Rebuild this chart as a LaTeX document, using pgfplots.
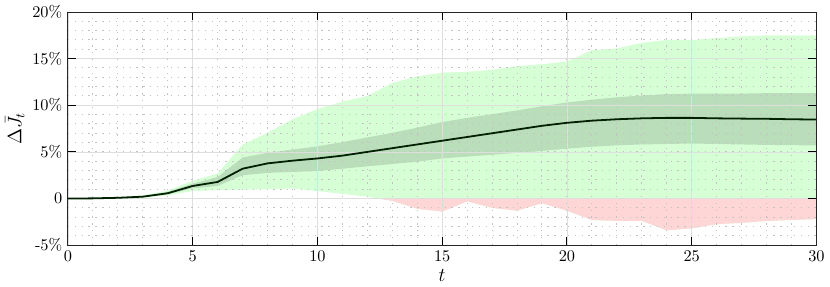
\documentclass[border=0pt]{standalone}
\usepackage{pgfplots}
\usepackage{pgfplotstable}
\pgfplotsset{compat=1.18}
\usepgfplotslibrary{fillbetween}
\definecolor{bandgreen}{RGB}{214,255,214}
\definecolor{bandred}{RGB}{255,214,214}
\definecolor{meanline}{RGB}{0,32,0}

% t, mean, inner lo, inner hi, outer lo, outer hi
\pgfplotstableread{
t  mean  ilo   ihi   olo   ohi
0  0.00  0.00  0.00  0.00  0.00
1  0.02  0.01  0.03  0.00  0.05
2  0.08  0.05  0.11  0.03  0.14
3  0.20  0.15  0.26  0.10  0.32
4  0.57  0.45  0.70  0.35  0.85
5  1.35  1.10  1.60  0.80  1.90
6  1.78  1.35  2.30  0.90  2.70
7  3.20  2.50  4.40  0.95  5.80
8  3.77  2.75  4.90  1.00  7.05
9  4.06  2.85  5.25  1.07  8.50
10 4.30  2.95  5.60  0.80  9.60
11 4.60  3.20  6.05  0.50  10.40
12 5.00  3.45  6.55  0.20  11.00
13 5.40  3.70  7.05  -0.25 12.40
14 5.80  3.95  7.60  -1.10 13.10
15 6.20  4.30  8.20  -1.40 13.50
16 6.60  4.50  8.65  -0.30 13.60
17 7.00  4.70  9.05  -1.00 13.80
18 7.40  4.90  9.45  -1.30 14.20
19 7.80  5.10  9.90  -0.50 14.40
20 8.12  5.35  10.30 -1.30 14.70
21 8.35  5.55  10.60 -2.30 15.90
22 8.50  5.70  10.85 -2.40 16.10
23 8.60  5.80  11.05 -2.40 16.70
24 8.65  5.85  11.20 -3.40 17.00
25 8.65  5.90  11.25 -3.20 17.00
26 8.60  5.85  11.25 -2.75 17.20
27 8.57  5.80  11.25 -2.60 17.40
28 8.55  5.75  11.30 -2.40 17.50
29 8.50  5.72  11.30 -2.30 17.50
30 8.47  5.70  11.30 -2.20 17.50
}\banddata

\begin{document}
\begin{tikzpicture}
\begin{axis}[
    set layers,
    scale only axis,
    width=459pt,
    height=143pt,
    xmin=0, xmax=30,
    ymin=-5, ymax=20,
    xtick={0,5,...,30},
    ytick={-5,0,5,10,15,20},
    yticklabels={-5\%,0,5\%,10\%,15\%,20\%},
    minor xtick={0,1,...,30},
    minor ytick={-5,-4,...,20},
    xmajorgrids, ymajorgrids,
    xminorgrids, yminorgrids,
    major grid style={draw=black!13, line width=0.5pt},
    minor grid style={draw=black!24, dash pattern=on 0.8pt off 3.4pt, line width=0.6pt},
    minor tick length=0pt,
    major tick length=5pt,
    tick align=inside,
    tick style={draw=black, line width=0.6pt},
    axis line style={draw=black!85, line width=0.6pt},
    fill between/on layer=axis background,
    xlabel={$t$},
    ylabel={$\Delta \bar{J}_t$},
    xlabel style={font=\large, yshift=2pt},
    ylabel style={font=\large, yshift=-2pt},
    tick label style={font=\normalsize},
]
\addplot[draw=none, name path=ohi, forget plot] table[x=t, y=ohi] {\banddata};
\addplot[draw=none, name path=olo, forget plot] table[x=t, y=olo] {\banddata};
\addplot[draw=none, name path=ihi, forget plot] table[x=t, y=ihi] {\banddata};
\addplot[draw=none, name path=ilo, forget plot] table[x=t, y=ilo] {\banddata};
\addplot[draw=none, name path=zero, forget plot] coordinates {(0,0) (30,0)};
\addplot[bandgreen, draw=none, forget plot] fill between[of=ohi and olo];
\addplot[bandred, draw=none, forget plot] fill between[of=zero and olo, soft clip={(axis cs:0,-5) rectangle (axis cs:30,0)}];
\addplot[fill=black, fill opacity=0.13, draw=none, forget plot] fill between[of=ihi and ilo];
\addplot[meanline, line width=1.1pt] table[x=t, y=mean] {\banddata};
\end{axis}
\end{tikzpicture}
\end{document}
